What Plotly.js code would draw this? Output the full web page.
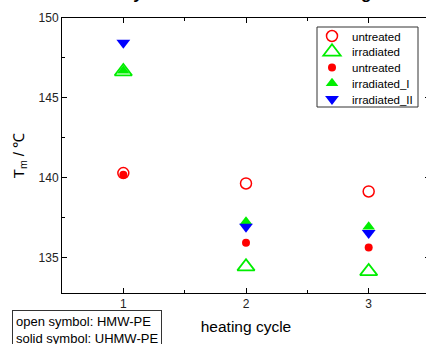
<!DOCTYPE html>
<html>
<head>
<meta charset="utf-8">
<script src="https://cdn.plot.ly/plotly-3.0.1.min.js"></script>
<style>
html,body{margin:0;padding:0;overflow:hidden;background:#fff;}
#chart{width:430px;height:344px;}
</style>
</head>
<body>
<div id="chart"></div>
<script>
const cycles = [1, 2, 3];
const untreatedOpen = [140.3, 139.65, 139.15];
const irradiatedOpen = [146.65, 134.45, 134.15];
const untreatedSolid = [140.2, 135.95, 135.65];
const irradiatedI = [146.7, 137.25, 136.95];
const irradiatedII = [148.45, 136.95, 136.55];
const xTickLabels = ["1", "2", "3"];
const seriesNames = ["untreated", "irradiated", "untreated", "irradiated_I", "irradiated_II"];

const FONT = "'Liberation Sans', Arial, sans-serif";

const traces = [
  {x: cycles, y: untreatedOpen, name: seriesNames[0], legend: "legend", mode: "markers", type: "scatter",
   marker: {symbol: "circle-open", size: 11, color: "#ff0000", line: {width: 1.5, color: "#ff0000"}}},
  {x: cycles, y: irradiatedOpen, name: seriesNames[1], legend: "legend2", mode: "markers", type: "scatter",
   marker: {symbol: "triangle-up-open", size: 15, color: "#00ee00", line: {width: 1.8, color: "#00ee00"}}},
  {x: cycles, y: untreatedSolid, name: seriesNames[2], legend: "legend3", mode: "markers", type: "scatter",
   marker: {symbol: "circle", size: 8, color: "#ff0000", line: {width: 0}}},
  {x: cycles, y: irradiatedI, name: seriesNames[3], legend: "legend4", mode: "markers", type: "scatter",
   marker: {symbol: "triangle-up", size: 11, color: "#00ee00", line: {width: 0}}},
  {x: cycles, y: irradiatedII, name: seriesNames[4], legend: "legend5", mode: "markers", type: "scatter",
   marker: {symbol: "triangle-down", size: 12, color: "#0000ff", line: {width: 0}}}
];

const axisCommon = {
  showline: true, linecolor: "#000", linewidth: 1, mirror: "ticks",
  ticks: "inside", ticklen: 5, tickwidth: 1, tickcolor: "#000",
  showgrid: false, zeroline: false,
  tickfont: {family: FONT, size: 12, color: "#222"}
};

// plot area: left 62px, width 368px, top 18px, height 275px
const legX = (312 - 62) / 368;
const legendRows = [36, 51.8, 67.6, 83.2, 99];
function legendAt(py) {
  return {x: legX, y: (293 - py) / 275, xanchor: "left", yanchor: "middle",
          bgcolor: "rgba(0,0,0,0)", borderwidth: 0,
          font: {family: FONT, size: 11.5, color: "#000"}};
}

const layout = {
  width: 430, height: 344,
  margin: {l: 62, r: 0, t: 18, b: 51},
  paper_bgcolor: "#fff", plot_bgcolor: "#fff",
  font: {family: FONT, color: "#000"},
  showlegend: true,
  xaxis: Object.assign({}, axisCommon, {
    range: [0.5, 3.5], tickmode: "array", tickvals: cycles, ticktext: xTickLabels,
    minor: {dtick: 0.5, ticks: "inside", ticklen: 3, tickcolor: "#000", showgrid: false},
    title: {text: "heating cycle", font: {family: FONT, size: 15.5, color: "#000"}, standoff: 10}
  }),
  yaxis: Object.assign({}, axisCommon, {
    range: [132.8, 150], dtick: 5, tick0: 135,
    minor: {dtick: 2.5, ticks: "inside", ticklen: 3, tickcolor: "#000", showgrid: false},
    title: {text: "T<sub>m</sub> / ℃", font: {family: FONT, size: 15, color: "#000"}, standoff: 10}
  }),
  legend: legendAt(legendRows[0]),
  legend2: legendAt(legendRows[1]),
  legend3: legendAt(legendRows[2]),
  legend4: legendAt(legendRows[3]),
  legend5: legendAt(legendRows[4]),
  shapes: [
    {type: "rect", xref: "paper", yref: "paper",
     x0: (317 - 62) / 368, x1: (418 - 62) / 368, y0: (293 - 107) / 275, y1: (293 - 27) / 275,
     fillcolor: "#fff", line: {color: "#333", width: 1}, layer: "above"}
  ],
  annotations: [
    {text: "Dynamic DSC of PE on heating", xref: "paper", yref: "paper", x: 0.5, y: 1,
     xanchor: "center", yanchor: "bottom", yshift: 13, showarrow: false,
     font: {size: 17, color: "#000", family: FONT, weight: "bold"}},
    {text: "open symbol: HMW-PE<br>solid symbol: UHMW-PE", xref: "paper", yref: "paper",
     x: -0.136, y: -0.069, xanchor: "left", yanchor: "top", align: "left", showarrow: false,
     yshift: 2, bordercolor: "#333", borderwidth: 1, borderpad: 3, bgcolor: "#fff",
     font: {family: FONT, size: 13, color: "#000"}}
  ]
};

Plotly.newPlot("chart", traces, layout, {displayModeBar: false, staticPlot: true});
</script>
</body>
</html>
